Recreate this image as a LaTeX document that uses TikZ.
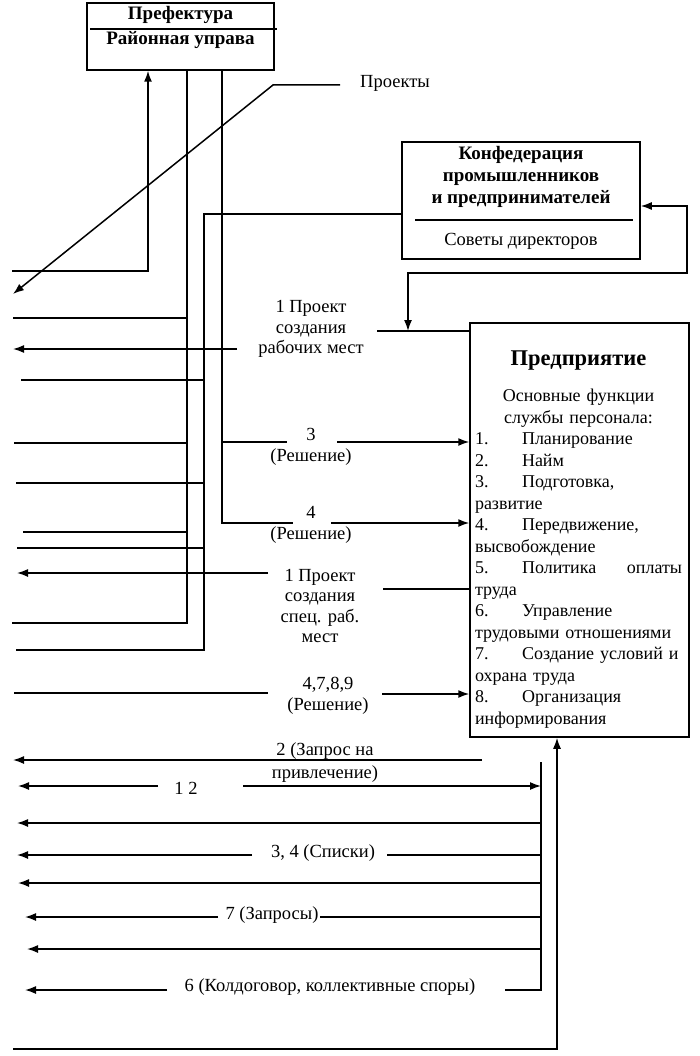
\documentclass[tikz,border=0pt]{standalone}
\usepackage{fontspec}
\setmainfont{Liberation Serif}
\usetikzlibrary{arrows.meta}

\newcommand{\nm}[1]{\makebox[47pt][l]{#1}}

\begin{document}
\begin{tikzpicture}[x=1pt,y=-1pt,line width=1.5pt,>={Latex[length=11pt,width=8pt]},
  font=\fontsize{18.5}{20.5}\selectfont]
\useasboundingbox (0,0) rectangle (700,1056);
\node[draw,minimum width=187pt,minimum height=67pt] (pref) at (180.5,36.5) {};
\node[font=\fontsize{19}{22}\selectfont\bfseries] (pref1) at (180.5,15) {Префектура};
\node[font=\fontsize{19}{22}\selectfont\bfseries] (pref2) at (180.5,40) {Районная управа};
\draw (90,29) -- (277,29);
\node[draw,minimum width=238pt,minimum height=117pt] (conf) at (521,200.5) {};
\node[align=center,font=\fontsize{19}{22}\selectfont\bfseries] (conf1) at (521,177) {Конфедерация\\промышленников\\и предпринимателей};
\draw[line width=2.4pt] (415,220) -- (633,220);
\node (conf2) at (521,241) {Советы директоров};
\node[draw,minimum width=219pt,minimum height=414pt] (ent) at (579.5,530) {};
\node[anchor=north,text width=207pt,align=left,inner sep=0pt,font=\fontsize{18}{21.5}\selectfont] (entT) at (578.5,350) {%
\makebox[\linewidth]{\fontsize{22.5}{26}\selectfont\bfseries Предприятие}\\[15pt]
\makebox[\linewidth]{Основные функции}\\
\makebox[\linewidth]{службы персонала:}\\
\nm{1.}Планирование\\
\nm{2.}Найм\\
\nm{3.}Подготовка,\\
развитие\\
\nm{4.}Передвижение,\\
высвобождение\\
\makebox[\linewidth][s]{\nm{5.}Политика\hfill оплаты}\\
труда\\
\nm{6.}Управление\\
трудовыми отношениями\\
\makebox[\linewidth][s]{\nm{7.}Создание условий и}\\
охрана труда\\
\nm{8.}Организация\\
информирования};
\node (proj) at (395,83) {Проекты};
\node[align=center] (L1) at (311,329) {1 Проект\\создания\\рабочих мест};
\node[align=center] (L2) at (311,447) {3\\(Решение)};
\node[align=center] (L3) at (311,525) {4\\(Решение)};
\node[align=center] (L4) at (320,606) {1 Проект\\создания\\спец. раб.\\мест};
\node[align=center] (L5) at (328,696) {4,7,8,9\\(Решение)};
\node[align=center] (L6) at (325,763) {2 (Запрос на\\[2.5pt]привлечение)};
\node (L7) at (186,788) {1 2};
\node (L8) at (323,853) {3, 4 (Списки)};
\node (L9) at (272,915) {7 (Запросы)};
\node (L10) at (330,987) {6 (Колдоговор, коллективные споры)};
\coordinate (u1) at (12,271);
\coordinate (u2) at (148,271);
\coordinate (pr1) at (340,85);
\coordinate (pr2) at (273,85);
\coordinate (pr3) at (13,294);
\coordinate (a) at (187,623);
\coordinate (aL) at (12,623);
\coordinate (sA1) at (13,318);
\coordinate (sA2) at (14,443);
\coordinate (sA3) at (23,532);
\coordinate (bT) at (204,214);
\coordinate (b) at (204,650);
\coordinate (bL) at (16,650);
\coordinate (sB1) at (21,380);
\coordinate (sB2) at (16,483);
\coordinate (sB3) at (17,548);
\coordinate (c) at (222,523);
\coordinate (c4a) at (293,523);
\coordinate (c4b) at (331,523);
\coordinate (c3) at (222,442);
\coordinate (c3a) at (287,442);
\coordinate (c3b) at (337,442);
\coordinate (r1) at (237,349);
\coordinate (r1L) at (13,349);
\coordinate (e1) at (377,331);
\coordinate (k1) at (687,206);
\coordinate (k2) at (408,273);
\coordinate (r2) at (268,573);
\coordinate (r2L) at (17,573);
\coordinate (e2) at (383,589);
\coordinate (sC) at (14,693);
\coordinate (sCa) at (268,693);
\coordinate (e3) at (382,694);
\coordinate (d0) at (13,1049);
\coordinate (d1) at (557,1049);
\coordinate (dT) at (541,762);
\coordinate (d) at (541,990);
\coordinate (dE) at (505,990);
\coordinate (q1) at (17,823);
\coordinate (q2) at (18,883);
\coordinate (q3) at (27,949);
\coordinate (q4) at (17,855);
\coordinate (q4a) at (252,855);
\coordinate (q4b) at (387,855);
\coordinate (q5) at (25,917);
\coordinate (q5a) at (218,917);
\coordinate (q5b) at (320,917);
\coordinate (q6) at (25,990);
\coordinate (q6a) at (167,990);
\coordinate (q7) at (13,760);
\coordinate (q7a) at (482,760);
\coordinate (q8) at (18,786);
\coordinate (q8a) at (158,786);
\coordinate (q8b) at (243,786);
\draw[->] (u1) -- (u2) -- (u2 |- pref.south);
\draw[->] (pr1) -- (pr2) -- (pr3);
\draw (a |- pref.south) -- (a) -- (aL);
\draw (sA1) -- (sA1 -| a);
\draw (sA2) -- (sA2 -| a);
\draw (sA3) -- (sA3 -| a);
\draw (bT -| conf.west) -- (bT) -- (b) -- (bL);
\draw (sB1) -- (sB1 -| b);
\draw (sB2) -- (sB2 -| b);
\draw (sB3) -- (sB3 -| b);
\draw (c |- pref.south) -- (c) -- (c4a);
\draw[->] (c4b) -- (c4b -| ent.west);
\draw (c3) -- (c3a);
\draw[->] (c3b) -- (c3b -| ent.west);
\draw[->] (r1) -- (r1L);
\draw (e1) -- (e1 -| ent.west);
\draw[<->] (k1 -| conf.east) -- (k1) |- (k2) -- (k2 |- e1);
\draw[->] (r2) -- (r2L);
\draw (e2) -- (e2 -| ent.west);
\draw (sC) -- (sCa);
\draw[->] (e3) -- (e3 -| ent.west);
\draw[->] (d0) -- (d1) -- (d1 |- ent.south);
\draw (dT) -- (d) -- (dE);
\draw[->] (q1 -| d) -- (q1);
\draw[->] (q2 -| d) -- (q2);
\draw[->] (q3 -| d) -- (q3);
\draw[->] (q4a) -- (q4);
\draw (q4b) -- (q4b -| d);
\draw[->] (q5a) -- (q5);
\draw (q5b) -- (q5b -| d);
\draw[->] (q6a) -- (q6);
\draw[->] (q7a) -- (q7);
\draw[->] (q8a) -- (q8);
\draw[->] (q8b) -- (q8b -| d);
\end{tikzpicture}
\end{document}
